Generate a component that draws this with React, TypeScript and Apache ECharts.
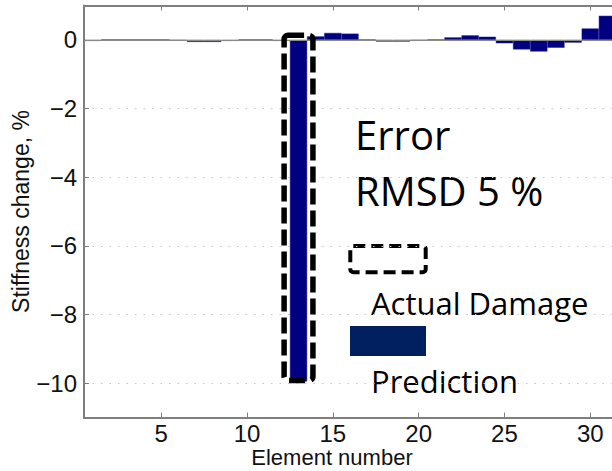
import React, { useEffect, useRef } from "react";
import * as echarts from "echarts";

const elements = [1, 2, 3, 4, 5, 6, 7, 8, 9, 10, 11, 12, 13, 14, 15, 16, 17, 18, 19, 20, 21, 22, 23, 24, 25, 26, 27, 28, 29, 30, 31];
const predicted = [-0.03, 0, 0, 0, 0, -0.02, -0.06, -0.06, -0.03, 0, 0, -0.03, -9.95, 0.1, 0.2, 0.18, 0, -0.05, -0.05, -0.02, 0, 0.07, 0.13, 0.09, -0.1, -0.28, -0.34, -0.23, -0.08, 0.33, 0.7];
const damagedElements = [13];
const actualDamage = [-10];
const xRange = [0.5, 31.5];
const yRange = [-11, 1];
const annotationTexts = ["Error", "RMSD 5 %", "Actual Damage", "Prediction"];

const minus = (v: number) => (v < 0 ? "\u2212" + Math.abs(v) : String(v));

export default function App() {
  const ref = useRef<HTMLDivElement>(null);
  useEffect(() => {
    if (!ref.current) return;
    const chart = echarts.init(ref.current, null, { renderer: "svg" });
    const axisColor = "#7f7f7f";
    const tickFont = { fontFamily: "Liberation Sans", fontSize: 24, color: "#111", lineHeight: 23 };
    const titleFont = { fontFamily: "Liberation Sans", fontSize: 22, color: "#111", lineHeight: 22 };
    chart.setOption({
      animation: false,
      backgroundColor: "#fff",
      grid: { left: 84, top: 5.5, width: 532, height: 412, outerBoundsMode: "none", containLabel: false },
      xAxis: [
        {
          type: "value",
          min: xRange[0],
          max: xRange[1],
          splitNumber: 6,
          axisLine: { show: true, onZero: false, lineStyle: { color: axisColor, width: 2 } },
          axisTick: { show: true, inside: true, length: 5, lineStyle: { color: axisColor, width: 1 } },
          axisLabel: { ...tickFont, margin: 4, showMinLabel: false, showMaxLabel: false },
          splitLine: { show: false },
          name: "Element number",
          nameLocation: "middle",
          nameGap: 29,
          nameMoveOverlap: false,
          nameTextStyle: { ...titleFont, padding: [0, 36, 0, 0] },
        },
        {
          type: "value",
          position: "top",
          min: xRange[0],
          max: xRange[1],
          splitNumber: 6,
          axisLine: { show: true, onZero: false, lineStyle: { color: axisColor, width: 2 } },
          axisTick: { show: true, inside: true, length: 5, lineStyle: { color: axisColor, width: 1 } },
          axisLabel: { show: false },
          splitLine: { show: false },
        },
      ],
      yAxis: {
        type: "value",
        min: yRange[0],
        max: yRange[1],
        splitNumber: 6,
        axisLine: { show: true, onZero: false, lineStyle: { color: axisColor, width: 2 } },
        axisTick: { show: true, inside: true, length: 5, lineStyle: { color: axisColor, width: 1 } },
        axisLabel: { ...tickFont, margin: 7, showMinLabel: false, showMaxLabel: false, formatter: minus },
        splitLine: { show: true, lineStyle: { color: "#c4c4c4", width: 1, type: [1.5, 7] } },
        name: "Stiffness change, %",
        nameLocation: "middle",
        nameGap: 52,
        nameMoveOverlap: false,
        nameTextStyle: { ...titleFont, fontSize: 23 },
      },
      series: [
        {
          type: "bar",
          data: elements.map((e, i) => [e, predicted[i]]),
          barWidth: 17.2,
          itemStyle: { color: "#000080", borderColor: "#1a1a9a", borderWidth: 0.5 },
          markLine: {
            silent: true,
            symbol: "none",
            label: { show: false },
            lineStyle: { color: "#8a8a8a", width: 1, type: "solid" },
            data: [{ yAxis: 0 }],
          },
          z: 2,
        },
        {
          type: "custom",
          data: damagedElements.map((e, i) => [e, actualDamage[i]]),
          z: 5,
          renderItem: (params: any, api: any) => {
            const x = api.value(0);
            const v = api.value(1);
            const p1 = api.coord([x - 0.84, 0.13]);
            const p2 = api.coord([x + 0.84, v + 0.08]);
            return {
              type: "rect",
              shape: { x: p1[0], y: p1[1], width: p2[0] - p1[0], height: p2[1] - p1[1], r: 4 },
              style: { fill: "none", stroke: "#000", lineWidth: 5.5, lineDash: [16, 6] },
            };
          },
        },
      ],
      graphic: [
        {
          type: "text",
          x: 355,
          y: 134,
          style: { text: annotationTexts[0], font: '40px "Open Sans"', fill: "#000", align: "left", verticalAlign: "middle" },
        },
        {
          type: "text",
          x: 355,
          y: 190,
          style: { text: annotationTexts[1], font: '40px "Open Sans"', fill: "#000", align: "left", verticalAlign: "middle" },
        },
        {
          type: "rect",
          shape: { x: 350.3, y: 246, width: 75.4, height: 26.3, r: 3 },
          style: { fill: "none", stroke: "#000", lineWidth: 4, lineDash: [12, 6] },
        },
        {
          type: "text",
          x: 371,
          y: 303,
          style: { text: annotationTexts[2], font: '31px "Open Sans"', fill: "#000", align: "left", verticalAlign: "middle" },
        },
        {
          type: "rect",
          shape: { x: 350, y: 326, width: 76, height: 30 },
          style: { fill: "#002060" },
        },
        {
          type: "text",
          x: 371,
          y: 381,
          style: { text: annotationTexts[3], font: '31px "Open Sans"', fill: "#000", align: "left", verticalAlign: "middle" },
        },
      ],
    });
    return () => chart.dispose();
  }, []);
  return (
    <div
      ref={ref}
      style={{ position: "fixed", left: 0, top: 0, width: 612, height: 471, background: "#fff" }}
    />
  );
}
